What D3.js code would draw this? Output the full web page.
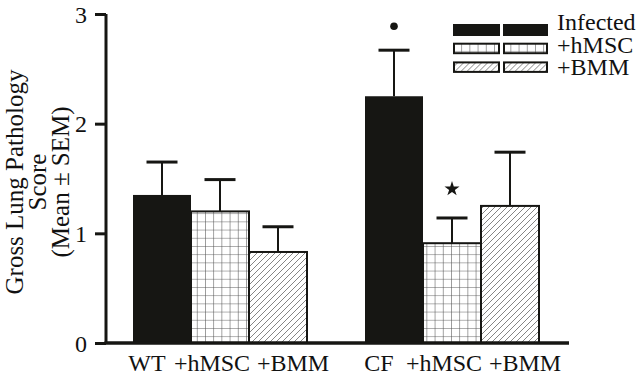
<!DOCTYPE html>
<html>
<head>
<meta charset="utf-8">
<script src="https://cdn.jsdelivr.net/npm/d3@7"></script>
<style>
  body { margin: 0; background: #fff; }
  text { font-family: "Liberation Serif", "Times New Roman", serif; fill: #111; }
</style>
</head>
<body>
<script>
// data
const groups = ["WT", "CF"];
const series = ["Infected", "+hMSC", "+BMM"];
const means = [[1.35, 1.20, 0.83], [2.25, 0.91, 1.25]];
const sems = [[0.30, 0.29, 0.23], [0.42, 0.23, 0.49]];
const barLabels = [["WT", "+hMSC", "+BMM"], ["CF", "+hMSC", "+BMM"]];
const yTicks = [0, 1, 2, 3];
const marks = [
  { group: "CF", series: 0, symbol: "dot" },
  { group: "CF", series: 1, symbol: "star" }
];

const width = 640, height = 376;
const ink = "#161613";

const svg = d3.select("body").append("svg")
  .attr("width", width)
  .attr("height", height);

svg.append("rect").attr("width", width).attr("height", height).attr("fill", "#fff");

// fill patterns
const defs = svg.append("defs");
const grid = defs.append("pattern")
  .attr("id", "grid")
  .attr("patternUnits", "userSpaceOnUse")
  .attr("width", 8.2).attr("height", 8.2);
grid.append("rect").attr("width", 8.2).attr("height", 8.2).attr("fill", "#fff");
grid.append("path")
  .attr("d", "M0,0 V8.2 M0,0 H8.2")
  .attr("stroke", "#555").attr("stroke-width", 1.1);

const hatch = defs.append("pattern")
  .attr("id", "hatch")
  .attr("patternUnits", "userSpaceOnUse")
  .attr("width", 6).attr("height", 6);
hatch.append("rect").attr("width", 6).attr("height", 6).attr("fill", "#fff");
hatch.append("path")
  .attr("d", "M0,6 L6,0 M-1,1 L1,-1 M5,7 L7,5")
  .attr("stroke", "#777").attr("stroke-width", 0.9);

const fills = [ink, "url(#grid)", "url(#hatch)"];

// scales
const y = d3.scaleLinear().domain([0, 3]).range([343, 14]);
const x0 = d3.scaleBand().domain(groups).range([133, 539]).paddingInner(0.25).paddingOuter(0);
const x1 = d3.scaleBand().domain(d3.range(series.length)).range([0, x0.bandwidth()]);

const rows = [];
groups.forEach((g, gi) => {
  series.forEach((s, si) => {
    rows.push({ g, gi, si, mean: means[gi][si], sem: sems[gi][si], label: barLabels[gi][si] });
  });
});
const cx = d => x0(d.g) + x1(d.si) + x1.bandwidth() / 2;

// bars
svg.append("g").selectAll("rect")
  .data(rows)
  .join("rect")
  .attr("x", d => x0(d.g) + x1(d.si))
  .attr("y", d => y(d.mean))
  .attr("width", x1.bandwidth())
  .attr("height", d => y(0) - y(d.mean))
  .attr("fill", d => fills[d.si])
  .attr("stroke", ink)
  .attr("stroke-width", d => d.si === 0 ? 0 : 2);

// error bars (upper only)
const err = svg.append("g").attr("stroke", ink);
err.selectAll("line.stem")
  .data(rows)
  .join("line")
  .attr("class", "stem")
  .attr("x1", cx).attr("x2", cx)
  .attr("y1", d => y(d.mean))
  .attr("y2", d => y(d.mean + d.sem))
  .attr("stroke-width", 2);
err.selectAll("line.cap")
  .data(rows)
  .join("line")
  .attr("class", "cap")
  .attr("x1", d => cx(d) - 15.5).attr("x2", d => cx(d) + 15.5)
  .attr("y1", d => y(d.mean + d.sem))
  .attr("y2", d => y(d.mean + d.sem))
  .attr("stroke-width", 3);

// significance marks
marks.forEach(m => {
  const gi = groups.indexOf(m.group);
  const d = rows.find(r => r.gi === gi && r.si === m.series);
  const my = y(d.mean + d.sem) - (m.symbol === "dot" ? 24 : 29);
  if (m.symbol === "dot") {
    svg.append("circle").attr("cx", cx(d)).attr("cy", my).attr("r", 3.8).attr("fill", ink);
  } else {
    svg.append("path")
      .attr("d", d3.symbol(d3.symbolStar, 70)())
      .attr("transform", `translate(${cx(d)},${my})`)
      .attr("fill", ink);
  }
});

// axes
const yAxis = svg.append("g")
  .attr("transform", "translate(106,0)")
  .call(d3.axisLeft(y).tickValues(yTicks).tickFormat(d3.format("d")).tickSize(11).tickPadding(8));
yAxis.select(".domain").attr("stroke", ink).attr("stroke-width", 3).attr("d", `M0,${y(3)}V${y(0)}`);
yAxis.selectAll(".tick line").attr("stroke", ink).attr("stroke-width", 3);
yAxis.selectAll(".tick text")
  .attr("font-family", "Liberation Serif, Times New Roman, serif")
  .attr("font-size", 24)
  .attr("fill", "#111")
  .attr("dy", "0.34em");

svg.append("line")
  .attr("x1", 104.5).attr("x2", 569)
  .attr("y1", y(0)).attr("y2", y(0))
  .attr("stroke", ink).attr("stroke-width", 3.5);

// category labels
const labelShift = [-15, -8, 15];
svg.append("g").selectAll("text")
  .data(rows)
  .join("text")
  .attr("x", d => cx(d) + labelShift[d.si])
  .attr("y", 371)
  .attr("text-anchor", "middle")
  .attr("font-size", 24)
  .text(d => d.label);

// y title
const yt = svg.append("text")
  .attr("transform", "translate(23,182) rotate(-90)")
  .attr("text-anchor", "middle")
  .attr("font-size", 25);
["Gross Lung Pathology", "Score", "(Mean \u00B1 SEM)"].forEach((t, i) => {
  yt.append("tspan").attr("x", 0).attr("dy", i === 0 ? 0 : 23).text(t);
});

// legend
const legend = svg.append("g").attr("transform", "translate(453,24)");
series.forEach((s, i) => {
  const row = legend.append("g").attr("transform", `translate(0,${i * 18.7})`);
  [[0, 47], [50, 45]].forEach(([bx, bw]) => {
    row.append("rect")
      .attr("x", bx + (i ? 1 : 0)).attr("y", i ? 1 : 0)
      .attr("width", bw - (i ? 2 : 0)).attr("height", i ? 9.5 : 12)
      .attr("fill", fills[i])
      .attr("stroke", ink)
      .attr("stroke-width", i ? 2 : 0);
  });
  legend.append("text")
    .attr("x", 104)
    .attr("y", 6 + i * 22.5)
    .attr("font-size", 24)
    .text(s);
});
</script>
</body>
</html>
